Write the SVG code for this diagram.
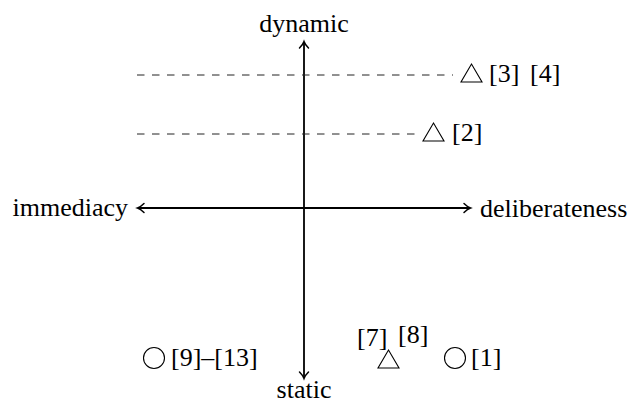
<svg xmlns="http://www.w3.org/2000/svg" width="633" height="409" viewBox="0 0 633 409">
<style>
text{font-family:"Liberation Serif","Times New Roman",serif;font-size:26px;fill:#000}
.ax{stroke:#000;stroke-width:1.8;fill:none}
.ah{stroke:#000;stroke-width:1.5;fill:none;stroke-linecap:round}
.dash{stroke:#222;stroke-width:1;stroke-dasharray:7.5,7.5;fill:none}
.sym{stroke:#000;stroke-width:1.1;fill:none}
</style>
<g id="connectors">
<line class="ax" x1="304" y1="42" x2="304" y2="378"/>
<path class="ah" d="M299.5,48 Q303,44.5 304,41.5 Q305,44.5 308.5,48"/>
<path class="ah" d="M299.5,372 Q303,375.5 304,378.5 Q305,375.5 308.5,372"/>
<line class="ax" x1="138" y1="208" x2="470" y2="208"/>
<path class="ah" d="M144,203.5 Q140.5,207 137.5,208 Q140.5,209 144,212.5"/>
<path class="ah" d="M464,203.5 Q467.5,207 470.5,208 Q467.5,209 464,212.5"/>
<line class="dash" x1="137" y1="75" x2="453" y2="75"/>
<line class="dash" x1="137" y1="134" x2="419" y2="134"/>
</g>
<g id="axis-labels">
<text x="304" y="32" text-anchor="middle">dynamic</text>
<text x="304" y="398" text-anchor="middle">static</text>
<text x="128" y="216" text-anchor="end">immediacy</text>
<text x="480" y="217">deliberateness</text>
</g>
<g id="n34">
<polygon class="sym" points="461,82 482,82 471.5,64"/>
<text x="489" y="82">[3]</text>
<text x="530" y="82">[4]</text>
</g>
<g id="n2">
<polygon class="sym" points="423,141 444,141 433.5,123"/>
<text x="452" y="141">[2]</text>
</g>
<g id="n913">
<circle class="sym" cx="154" cy="358" r="10.5"/>
<text x="171" y="366">[9]–[13]</text>
</g>
<g id="n78">
<polygon class="sym" points="378,368 399,368 388.5,350"/>
<text x="357" y="346">[7]</text>
<text x="398" y="343">[8]</text>
</g>
<g id="n1">
<circle class="sym" cx="455" cy="358" r="10.5"/>
<text x="471" y="366">[1]</text>
</g>
</svg>
